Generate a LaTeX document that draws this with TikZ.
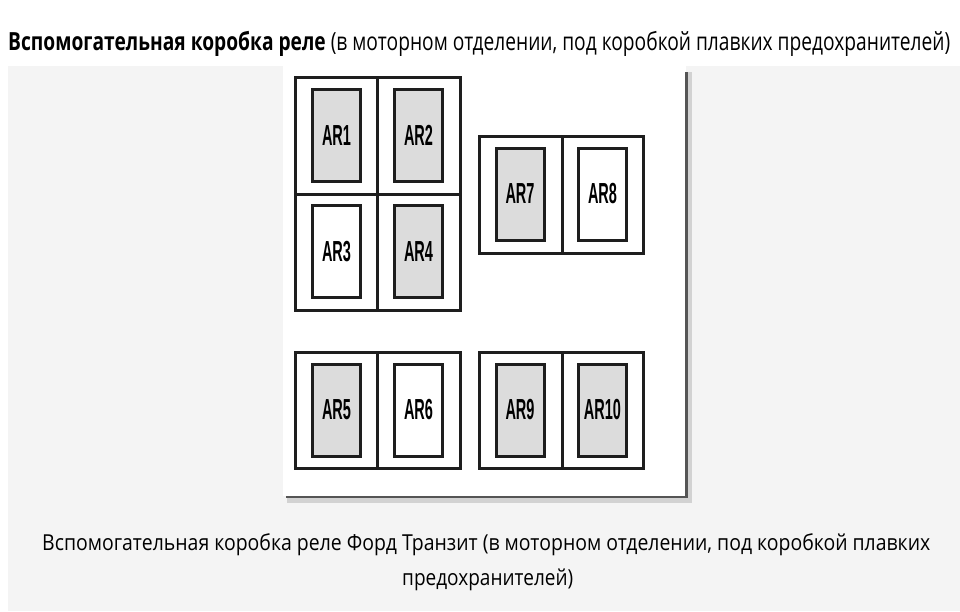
\documentclass[tikz,border=0pt]{standalone}
\usepackage{fontspec}
\usepackage{graphicx}
\setmainfont{Open Sans}
\newfontfamily\relayfont{Liberation Sans}
\definecolor{bggray}{HTML}{F4F4F4}
\definecolor{relaygray}{HTML}{DCDCDC}
\definecolor{linecol}{HTML}{1E1E1E}
\definecolor{shadowcol}{HTML}{555555}
\begin{document}
\begin{tikzpicture}[x=1pt,y=-1pt,
  cellbox/.style={draw=linecol,line width=3pt,fill=white},
  relay/.style={draw=linecol,line width=3pt,minimum width=48pt,minimum height=92pt,inner sep=0pt,
    font=\relayfont\bfseries\fontsize{29}{32}\selectfont},
  grayrelay/.style={relay,fill=relaygray},
  whiterelay/.style={relay,fill=white},
  titletext/.style={inner sep=0pt,text=black},
]
\useasboundingbox (0,0) rectangle (960,611);
\fill[white] (0,0) rectangle (960,611);
\fill[bggray] (8,66) rectangle (960,611);
% panel with shadow
\draw[gray!35,line width=6pt] (689,72) -- (689,500) -- (287,500);
\fill[white] (283,60) rectangle (686,496);
\draw[shadowcol,line width=2.8pt] (686.5,72) -- (686.5,497) -- (286,497);
% group 1
\draw[cellbox] (295,77) rectangle (377,194);
\draw[cellbox] (377,77) rectangle (460,194);
\draw[cellbox] (295,194) rectangle (377,310);
\draw[cellbox] (377,194) rectangle (460,310);
% group 2
\draw[cellbox] (479,136) rectangle (562,253);
\draw[cellbox] (562,136) rectangle (643,253);
% group 3
\draw[cellbox] (295,352) rectangle (377,468);
\draw[cellbox] (377,352) rectangle (460,468);
% group 4
\draw[cellbox] (479,352) rectangle (562,468);
\draw[cellbox] (562,352) rectangle (643,468);
% relays
\node[grayrelay]  (ar1)  at (336.5,135.5) {\scalebox{0.5}[1]{AR1}};
\node[grayrelay]  (ar2)  at (418.5,135.5) {\scalebox{0.5}[1]{AR2}};
\node[whiterelay] (ar3)  at (336.5,251.5) {\scalebox{0.5}[1]{AR3}};
\node[grayrelay]  (ar4)  at (418.5,251.5) {\scalebox{0.5}[1]{AR4}};
\node[grayrelay]  (ar7)  at (520,194) {\scalebox{0.5}[1]{AR7}};
\node[whiterelay] (ar8)  at (602.5,194) {\scalebox{0.5}[1]{AR8}};
\node[grayrelay]  (ar5)  at (336.5,410) {\scalebox{0.5}[1]{AR5}};
\node[whiterelay] (ar6)  at (418.5,410) {\scalebox{0.5}[1]{AR6}};
\node[grayrelay]  (ar9)  at (520,410) {\scalebox{0.5}[1]{AR9}};
\node[grayrelay]  (ar10) at (602.5,410) {\scalebox{0.5}[1]{AR10}};
% title
\node[titletext,anchor=base west] (title) at (8,50)
  {\fontsize{25}{30}\selectfont\resizebox{942pt}{\height}{\textbf{Вспомогательная коробка реле} (в моторном отделении, под коробкой плавких предохранителей)}};
% caption
\node[titletext,anchor=base west] (cap1) at (42,550)
  {\fontsize{22}{26}\selectfont\resizebox{888pt}{\height}{Вспомогательная коробка реле Форд Транзит (в моторном отделении, под коробкой плавких}};
\node[titletext,anchor=base west] (cap2) at (402,585)
  {\fontsize{22}{26}\selectfont\resizebox{171pt}{\height}{предохранителей)}};
\end{tikzpicture}
\end{document}
